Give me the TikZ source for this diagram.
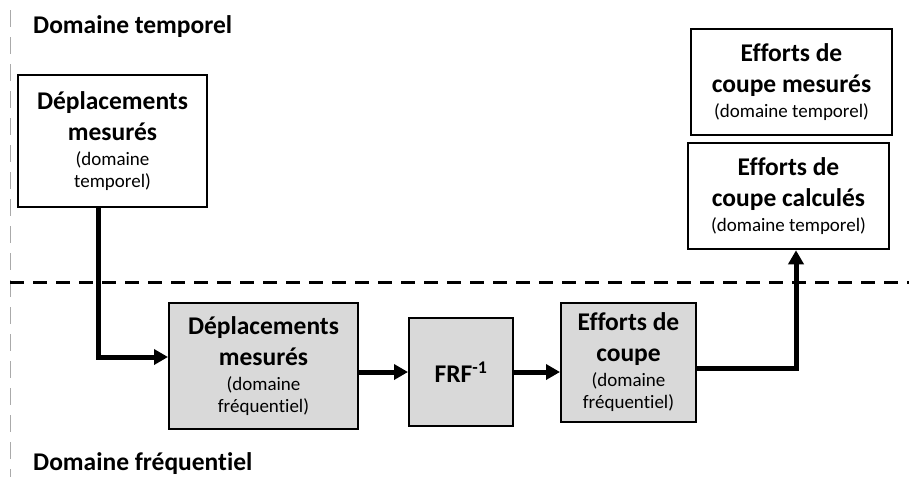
\documentclass[tikz,border=0pt]{standalone}
\usepackage{fontspec}
\setmainfont{Carlito}[Ligatures=NoCommon]
\usetikzlibrary{arrows.meta}

\definecolor{boxgray}{RGB}{217,217,217}
\definecolor{guidegray}{RGB}{170,170,170}
\newcommand{\dom}[1]{{\fontsize{19}{23}\selectfont\mdseries #1}}

\begin{document}
\begin{tikzpicture}[
  x=1pt, y=-1pt,
  font=\fontsize{25.5}{31}\selectfont\bfseries,
  line/.style={-{Triangle[length=14pt,width=15pt]}, line width=5pt},
  block/.style={
    draw,
    line width=2.5pt,
    align=center,
    inner sep=0pt
  },
  timebox/.style={block, fill=white},
  freqbox/.style={block, fill=boxgray, line width=2pt},
  title/.style={anchor=base west, inner sep=0pt},
  border/.style={line width=3pt, dash pattern=on 14pt off 9pt}
]

\useasboundingbox (0,0) rectangle (909,477);

% separations
\draw[guidegray, line width=1pt, dash pattern=on 17pt off 10pt] (10,10) -- (10,477);
\draw[border] (10,282) -- (909,282);

\node[title] (ttemps) at (33,33) {Domaine temporel};
\node[title] (tfreq) at (33,470) {Domaine fréquentiel};

% domaine temporel
\node[timebox, minimum width=189pt, minimum height=132pt] (depl) at (112.5,141)
  {Déplacements\\mesurés\\[-6pt]\dom{(domaine}\\[-9pt]\dom{temporel)}};
\node[timebox, minimum width=201pt, minimum height=106pt] (effmes) at (791.5,82)
  {Efforts de\\coupe mesurés\\[-6pt]\dom{(domaine temporel)}};
\node[timebox, minimum width=201pt, minimum height=106pt] (effcalc) at (788.5,196)
  {Efforts de\\coupe calculés\\[-6pt]\dom{(domaine temporel)}};

% domaine frequentiel
\node[freqbox, minimum width=189pt, minimum height=126pt] (deplf) at (263.5,366)
  {Déplacements\\mesurés\\[-6pt]\dom{(domaine}\\[-9pt]\dom{fréquentiel)}};
\node[freqbox, minimum width=104pt, minimum height=108pt] (frf) at (461,372)
  {FRF\textsuperscript{-1}};
\node[freqbox, minimum width=135pt, minimum height=119pt] (efff) at (628.5,362.5)
  {Efforts de\\coupe\\[-6pt]\dom{(domaine}\\[-9pt]\dom{fréquentiel)}};

\draw[line] ([xshift=-14.5pt]depl.south) |- ([yshift=9pt]deplf.west);
\draw[line] (deplf.east |- frf) -- (frf);
\draw[line] (frf.east) -- (frf.east -| efff.west);
\draw[line] ([yshift=-5.5pt]efff.east) -| ([xshift=7.5pt]effcalc.south);

\end{tikzpicture}
\end{document}
